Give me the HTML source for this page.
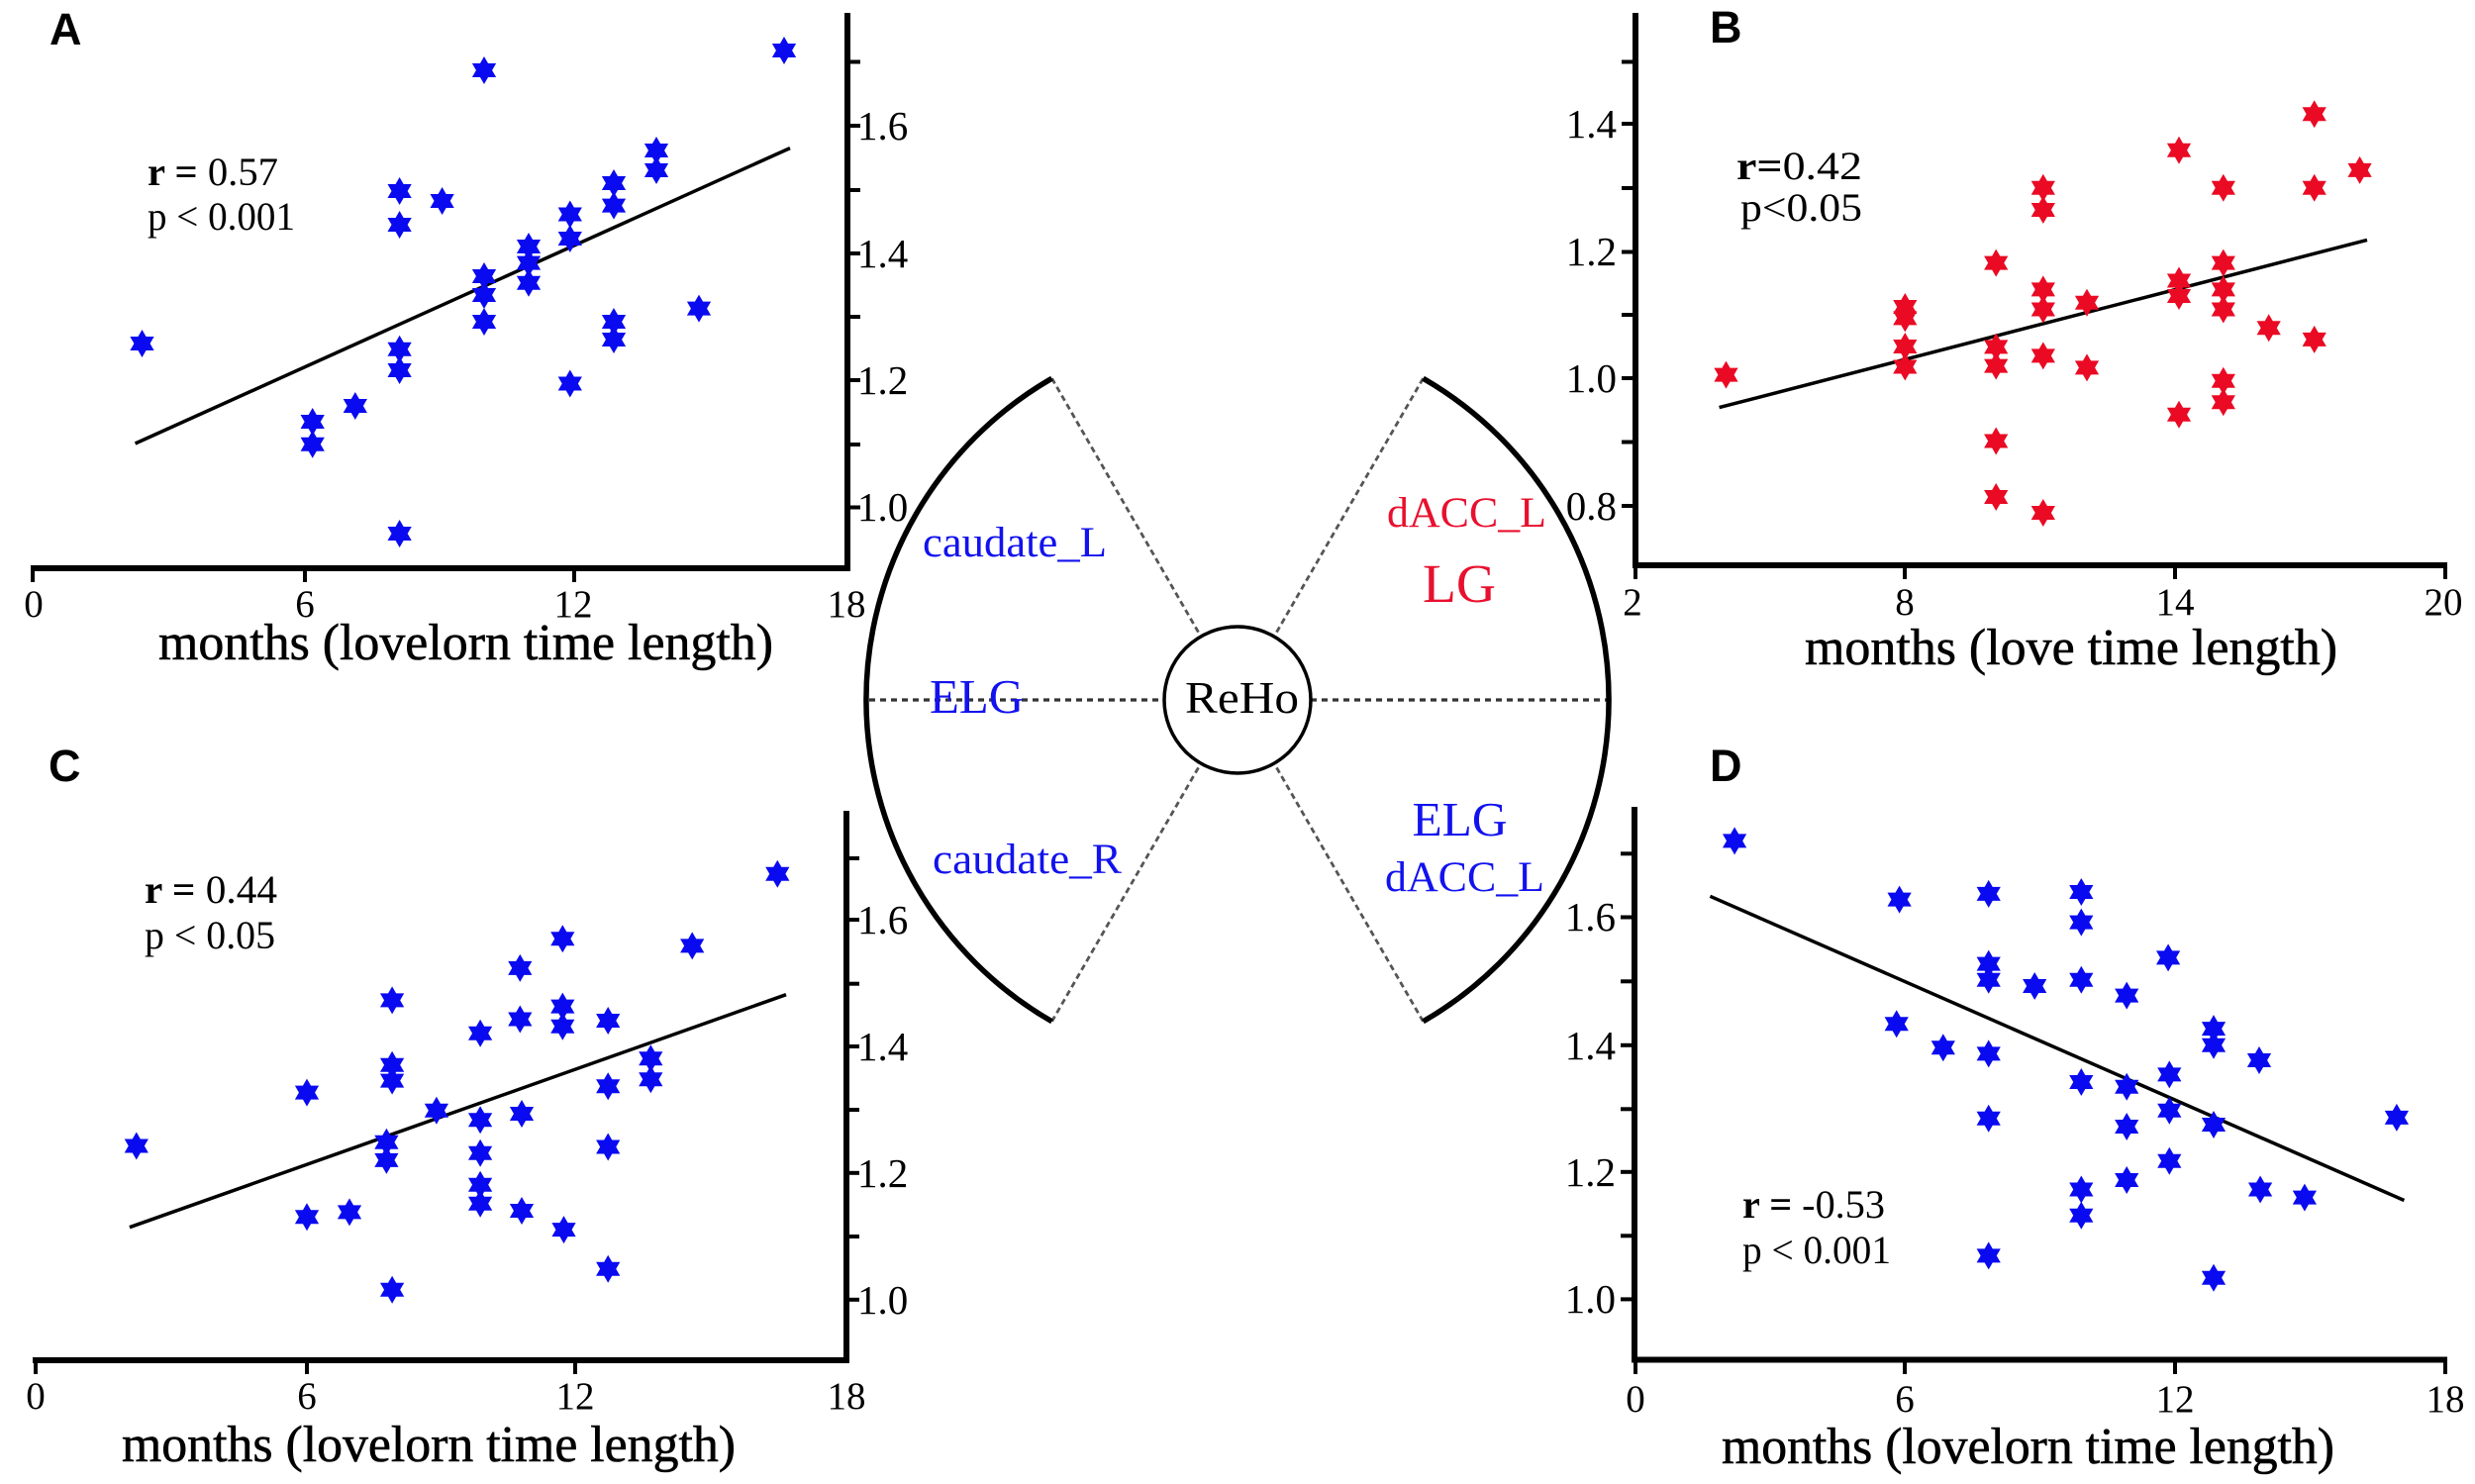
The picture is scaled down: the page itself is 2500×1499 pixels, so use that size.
<!DOCTYPE html>
<html><head><meta charset="utf-8">
<style>
html,body{margin:0;padding:0;background:#fff;}
svg{display:block;}
.t{font-family:"Liberation Serif","Times New Roman",serif;}
.l{font-family:"Liberation Sans",Arial,sans-serif;font-weight:bold;}
.ti{font-family:"Liberation Serif","Times New Roman",serif;font-size:52px;stroke:#000;stroke-width:0.6px;}
</style></head>
<body>
<svg width="2500" height="1499" viewBox="0 0 2500 1499" xmlns="http://www.w3.org/2000/svg">
<rect width="2500" height="1499" fill="#fff"/>

<!-- ===== Panel A ===== -->
<g stroke="#000" fill="none">
<line x1="856" y1="13" x2="856" y2="577" stroke-width="6"/>
<line x1="31" y1="574" x2="859" y2="574" stroke-width="6"/>
<g stroke-width="4">
<line x1="33" y1="574" x2="33" y2="588"/><line x1="308" y1="574" x2="308" y2="588"/><line x1="580" y1="574" x2="580" y2="588"/>
<line x1="859" y1="62.5" x2="869" y2="62.5"/><line x1="859" y1="127" x2="869" y2="127"/><line x1="859" y1="192" x2="869" y2="192"/><line x1="859" y1="256" x2="869" y2="256"/><line x1="859" y1="320" x2="869" y2="320"/><line x1="859" y1="384" x2="869" y2="384"/><line x1="859" y1="449" x2="869" y2="449"/><line x1="859" y1="512.5" x2="869" y2="512.5"/>
</g>
<line x1="136.6" y1="448" x2="798" y2="149.6" stroke-width="3.5"/>
</g>
<g class="t" font-size="41" fill="#000">
<text x="866" y="141">1.6</text><text x="866" y="270">1.4</text><text x="866" y="398">1.2</text><text x="866" y="526">1.0</text>
<g text-anchor="middle" font-size="39"><text x="34" y="623">0</text><text x="308" y="623">6</text><text x="579" y="623">12</text><text x="855" y="623">18</text></g>
</g>
<text class="ti" x="160" y="666" textLength="621" lengthAdjust="spacingAndGlyphs">months (lovelorn time length)</text>
<text class="t" x="149" y="187" font-size="40" textLength="132" lengthAdjust="spacingAndGlyphs"><tspan font-weight="bold">r =</tspan> 0.57</text>
<text class="t" x="149" y="232" font-size="40" textLength="149" lengthAdjust="spacingAndGlyphs">p &lt; 0.001</text>
<text class="l" x="50" y="45" font-size="45">A</text>
<g fill="#0a0af0">
<path transform="translate(143.5,347)" d="M0-14L4.04-7 12.12-7 8.08 0 12.12 7 4.04 7 0 14-4.04 7-12.12 7-8.08 0-12.12-7-4.04-7Z"/>
<path transform="translate(489,71)" d="M0-14L4.04-7 12.12-7 8.08 0 12.12 7 4.04 7 0 14-4.04 7-12.12 7-8.08 0-12.12-7-4.04-7Z"/>
<path transform="translate(792,51)" d="M0-14L4.04-7 12.12-7 8.08 0 12.12 7 4.04 7 0 14-4.04 7-12.12 7-8.08 0-12.12-7-4.04-7Z"/>
<path transform="translate(403.6,193)" d="M0-14L4.04-7 12.12-7 8.08 0 12.12 7 4.04 7 0 14-4.04 7-12.12 7-8.08 0-12.12-7-4.04-7Z"/>
<path transform="translate(403.6,227)" d="M0-14L4.04-7 12.12-7 8.08 0 12.12 7 4.04 7 0 14-4.04 7-12.12 7-8.08 0-12.12-7-4.04-7Z"/>
<path transform="translate(446.6,203)" d="M0-14L4.04-7 12.12-7 8.08 0 12.12 7 4.04 7 0 14-4.04 7-12.12 7-8.08 0-12.12-7-4.04-7Z"/>
<path transform="translate(663,152)" d="M0-14L4.04-7 12.12-7 8.08 0 12.12 7 4.04 7 0 14-4.04 7-12.12 7-8.08 0-12.12-7-4.04-7Z"/>
<path transform="translate(663,172)" d="M0-14L4.04-7 12.12-7 8.08 0 12.12 7 4.04 7 0 14-4.04 7-12.12 7-8.08 0-12.12-7-4.04-7Z"/>
<path transform="translate(620,185)" d="M0-14L4.04-7 12.12-7 8.08 0 12.12 7 4.04 7 0 14-4.04 7-12.12 7-8.08 0-12.12-7-4.04-7Z"/>
<path transform="translate(620,207.6)" d="M0-14L4.04-7 12.12-7 8.08 0 12.12 7 4.04 7 0 14-4.04 7-12.12 7-8.08 0-12.12-7-4.04-7Z"/>
<path transform="translate(575.8,216.5)" d="M0-14L4.04-7 12.12-7 8.08 0 12.12 7 4.04 7 0 14-4.04 7-12.12 7-8.08 0-12.12-7-4.04-7Z"/>
<path transform="translate(575.8,241)" d="M0-14L4.04-7 12.12-7 8.08 0 12.12 7 4.04 7 0 14-4.04 7-12.12 7-8.08 0-12.12-7-4.04-7Z"/>
<path transform="translate(534,249)" d="M0-14L4.04-7 12.12-7 8.08 0 12.12 7 4.04 7 0 14-4.04 7-12.12 7-8.08 0-12.12-7-4.04-7Z"/>
<path transform="translate(534,265.6)" d="M0-14L4.04-7 12.12-7 8.08 0 12.12 7 4.04 7 0 14-4.04 7-12.12 7-8.08 0-12.12-7-4.04-7Z"/>
<path transform="translate(534,285.7)" d="M0-14L4.04-7 12.12-7 8.08 0 12.12 7 4.04 7 0 14-4.04 7-12.12 7-8.08 0-12.12-7-4.04-7Z"/>
<path transform="translate(489,279)" d="M0-14L4.04-7 12.12-7 8.08 0 12.12 7 4.04 7 0 14-4.04 7-12.12 7-8.08 0-12.12-7-4.04-7Z"/>
<path transform="translate(489,298)" d="M0-14L4.04-7 12.12-7 8.08 0 12.12 7 4.04 7 0 14-4.04 7-12.12 7-8.08 0-12.12-7-4.04-7Z"/>
<path transform="translate(489,325)" d="M0-14L4.04-7 12.12-7 8.08 0 12.12 7 4.04 7 0 14-4.04 7-12.12 7-8.08 0-12.12-7-4.04-7Z"/>
<path transform="translate(620,325)" d="M0-14L4.04-7 12.12-7 8.08 0 12.12 7 4.04 7 0 14-4.04 7-12.12 7-8.08 0-12.12-7-4.04-7Z"/>
<path transform="translate(620,343)" d="M0-14L4.04-7 12.12-7 8.08 0 12.12 7 4.04 7 0 14-4.04 7-12.12 7-8.08 0-12.12-7-4.04-7Z"/>
<path transform="translate(706,311.6)" d="M0-14L4.04-7 12.12-7 8.08 0 12.12 7 4.04 7 0 14-4.04 7-12.12 7-8.08 0-12.12-7-4.04-7Z"/>
<path transform="translate(575.8,387.5)" d="M0-14L4.04-7 12.12-7 8.08 0 12.12 7 4.04 7 0 14-4.04 7-12.12 7-8.08 0-12.12-7-4.04-7Z"/>
<path transform="translate(403.6,352.7)" d="M0-14L4.04-7 12.12-7 8.08 0 12.12 7 4.04 7 0 14-4.04 7-12.12 7-8.08 0-12.12-7-4.04-7Z"/>
<path transform="translate(403.6,374)" d="M0-14L4.04-7 12.12-7 8.08 0 12.12 7 4.04 7 0 14-4.04 7-12.12 7-8.08 0-12.12-7-4.04-7Z"/>
<path transform="translate(358.8,410)" d="M0-14L4.04-7 12.12-7 8.08 0 12.12 7 4.04 7 0 14-4.04 7-12.12 7-8.08 0-12.12-7-4.04-7Z"/>
<path transform="translate(315.7,426)" d="M0-14L4.04-7 12.12-7 8.08 0 12.12 7 4.04 7 0 14-4.04 7-12.12 7-8.08 0-12.12-7-4.04-7Z"/>
<path transform="translate(315.7,448.7)" d="M0-14L4.04-7 12.12-7 8.08 0 12.12 7 4.04 7 0 14-4.04 7-12.12 7-8.08 0-12.12-7-4.04-7Z"/>
<path transform="translate(403.6,539)" d="M0-14L4.04-7 12.12-7 8.08 0 12.12 7 4.04 7 0 14-4.04 7-12.12 7-8.08 0-12.12-7-4.04-7Z"/>
</g>

<!-- ===== Panel B ===== -->
<g stroke="#000" fill="none">
<line x1="1652" y1="13" x2="1652" y2="574" stroke-width="6"/>
<line x1="1649" y1="571" x2="2472" y2="571" stroke-width="6"/>
<g stroke-width="4">
<line x1="1652" y1="571" x2="1652" y2="585"/><line x1="1924" y1="571" x2="1924" y2="585"/><line x1="2197" y1="571" x2="2197" y2="585"/><line x1="2470" y1="571" x2="2470" y2="585"/>
<line x1="1638" y1="62.5" x2="1652" y2="62.5"/><line x1="1638" y1="125" x2="1652" y2="125"/><line x1="1638" y1="190" x2="1652" y2="190"/><line x1="1638" y1="254.5" x2="1652" y2="254.5"/><line x1="1638" y1="318" x2="1652" y2="318"/><line x1="1638" y1="382" x2="1652" y2="382"/><line x1="1638" y1="446.5" x2="1652" y2="446.5"/><line x1="1638" y1="511" x2="1652" y2="511"/>
</g>
<line x1="1736.6" y1="411.6" x2="2391" y2="242.4" stroke-width="3.5"/>
</g>
<g class="t" font-size="41" fill="#000">
<g text-anchor="end"><text x="1633" y="139">1.4</text><text x="1633" y="268">1.2</text><text x="1633" y="396">1.0</text><text x="1633" y="525">0.8</text></g>
<g text-anchor="middle" font-size="39"><text x="1649" y="621">2</text><text x="1924" y="621">8</text><text x="2197" y="621">14</text><text x="2468" y="621">20</text></g>
</g>
<text class="ti" x="1823" y="671" textLength="538" lengthAdjust="spacingAndGlyphs">months (love time length)</text>
<text class="t" x="1754" y="181" font-size="40" textLength="127" lengthAdjust="spacingAndGlyphs"><tspan font-weight="bold">r=</tspan>0.42</text>
<text class="t" x="1758" y="223" font-size="40" textLength="123" lengthAdjust="spacingAndGlyphs">p&lt;0.05</text>
<text class="l" x="1727" y="43" font-size="45">B</text>
<g fill="#ea0a24">
<path transform="translate(1743.5,378.6)" d="M0-14L4.04-7 12.12-7 8.08 0 12.12 7 4.04 7 0 14-4.04 7-12.12 7-8.08 0-12.12-7-4.04-7Z"/>
<path transform="translate(1924.3,310)" d="M0-14L4.04-7 12.12-7 8.08 0 12.12 7 4.04 7 0 14-4.04 7-12.12 7-8.08 0-12.12-7-4.04-7Z"/>
<path transform="translate(1924.3,321.4)" d="M0-14L4.04-7 12.12-7 8.08 0 12.12 7 4.04 7 0 14-4.04 7-12.12 7-8.08 0-12.12-7-4.04-7Z"/>
<path transform="translate(1924.3,350)" d="M0-14L4.04-7 12.12-7 8.08 0 12.12 7 4.04 7 0 14-4.04 7-12.12 7-8.08 0-12.12-7-4.04-7Z"/>
<path transform="translate(1924.3,370.5)" d="M0-14L4.04-7 12.12-7 8.08 0 12.12 7 4.04 7 0 14-4.04 7-12.12 7-8.08 0-12.12-7-4.04-7Z"/>
<path transform="translate(2016.2,265.6)" d="M0-14L4.04-7 12.12-7 8.08 0 12.12 7 4.04 7 0 14-4.04 7-12.12 7-8.08 0-12.12-7-4.04-7Z"/>
<path transform="translate(2016.2,350.4)" d="M0-14L4.04-7 12.12-7 8.08 0 12.12 7 4.04 7 0 14-4.04 7-12.12 7-8.08 0-12.12-7-4.04-7Z"/>
<path transform="translate(2016.2,369.6)" d="M0-14L4.04-7 12.12-7 8.08 0 12.12 7 4.04 7 0 14-4.04 7-12.12 7-8.08 0-12.12-7-4.04-7Z"/>
<path transform="translate(2016.2,445.5)" d="M0-14L4.04-7 12.12-7 8.08 0 12.12 7 4.04 7 0 14-4.04 7-12.12 7-8.08 0-12.12-7-4.04-7Z"/>
<path transform="translate(2016.2,502)" d="M0-14L4.04-7 12.12-7 8.08 0 12.12 7 4.04 7 0 14-4.04 7-12.12 7-8.08 0-12.12-7-4.04-7Z"/>
<path transform="translate(2063.8,189.7)" d="M0-14L4.04-7 12.12-7 8.08 0 12.12 7 4.04 7 0 14-4.04 7-12.12 7-8.08 0-12.12-7-4.04-7Z"/>
<path transform="translate(2063.8,212)" d="M0-14L4.04-7 12.12-7 8.08 0 12.12 7 4.04 7 0 14-4.04 7-12.12 7-8.08 0-12.12-7-4.04-7Z"/>
<path transform="translate(2063.8,292.4)" d="M0-14L4.04-7 12.12-7 8.08 0 12.12 7 4.04 7 0 14-4.04 7-12.12 7-8.08 0-12.12-7-4.04-7Z"/>
<path transform="translate(2063.8,312.5)" d="M0-14L4.04-7 12.12-7 8.08 0 12.12 7 4.04 7 0 14-4.04 7-12.12 7-8.08 0-12.12-7-4.04-7Z"/>
<path transform="translate(2063.8,359.4)" d="M0-14L4.04-7 12.12-7 8.08 0 12.12 7 4.04 7 0 14-4.04 7-12.12 7-8.08 0-12.12-7-4.04-7Z"/>
<path transform="translate(2063.8,518)" d="M0-14L4.04-7 12.12-7 8.08 0 12.12 7 4.04 7 0 14-4.04 7-12.12 7-8.08 0-12.12-7-4.04-7Z"/>
<path transform="translate(2108,305.8)" d="M0-14L4.04-7 12.12-7 8.08 0 12.12 7 4.04 7 0 14-4.04 7-12.12 7-8.08 0-12.12-7-4.04-7Z"/>
<path transform="translate(2108,371.4)" d="M0-14L4.04-7 12.12-7 8.08 0 12.12 7 4.04 7 0 14-4.04 7-12.12 7-8.08 0-12.12-7-4.04-7Z"/>
<path transform="translate(2201,151.8)" d="M0-14L4.04-7 12.12-7 8.08 0 12.12 7 4.04 7 0 14-4.04 7-12.12 7-8.08 0-12.12-7-4.04-7Z"/>
<path transform="translate(2201,283.5)" d="M0-14L4.04-7 12.12-7 8.08 0 12.12 7 4.04 7 0 14-4.04 7-12.12 7-8.08 0-12.12-7-4.04-7Z"/>
<path transform="translate(2201,299)" d="M0-14L4.04-7 12.12-7 8.08 0 12.12 7 4.04 7 0 14-4.04 7-12.12 7-8.08 0-12.12-7-4.04-7Z"/>
<path transform="translate(2201,418.8)" d="M0-14L4.04-7 12.12-7 8.08 0 12.12 7 4.04 7 0 14-4.04 7-12.12 7-8.08 0-12.12-7-4.04-7Z"/>
<path transform="translate(2245.8,189.7)" d="M0-14L4.04-7 12.12-7 8.08 0 12.12 7 4.04 7 0 14-4.04 7-12.12 7-8.08 0-12.12-7-4.04-7Z"/>
<path transform="translate(2245.8,265.6)" d="M0-14L4.04-7 12.12-7 8.08 0 12.12 7 4.04 7 0 14-4.04 7-12.12 7-8.08 0-12.12-7-4.04-7Z"/>
<path transform="translate(2245.8,292.4)" d="M0-14L4.04-7 12.12-7 8.08 0 12.12 7 4.04 7 0 14-4.04 7-12.12 7-8.08 0-12.12-7-4.04-7Z"/>
<path transform="translate(2245.8,312.5)" d="M0-14L4.04-7 12.12-7 8.08 0 12.12 7 4.04 7 0 14-4.04 7-12.12 7-8.08 0-12.12-7-4.04-7Z"/>
<path transform="translate(2245.8,384.8)" d="M0-14L4.04-7 12.12-7 8.08 0 12.12 7 4.04 7 0 14-4.04 7-12.12 7-8.08 0-12.12-7-4.04-7Z"/>
<path transform="translate(2245.8,406.3)" d="M0-14L4.04-7 12.12-7 8.08 0 12.12 7 4.04 7 0 14-4.04 7-12.12 7-8.08 0-12.12-7-4.04-7Z"/>
<path transform="translate(2291.7,331.3)" d="M0-14L4.04-7 12.12-7 8.08 0 12.12 7 4.04 7 0 14-4.04 7-12.12 7-8.08 0-12.12-7-4.04-7Z"/>
<path transform="translate(2337.7,115.2)" d="M0-14L4.04-7 12.12-7 8.08 0 12.12 7 4.04 7 0 14-4.04 7-12.12 7-8.08 0-12.12-7-4.04-7Z"/>
<path transform="translate(2337.7,189.7)" d="M0-14L4.04-7 12.12-7 8.08 0 12.12 7 4.04 7 0 14-4.04 7-12.12 7-8.08 0-12.12-7-4.04-7Z"/>
<path transform="translate(2337.7,342.9)" d="M0-14L4.04-7 12.12-7 8.08 0 12.12 7 4.04 7 0 14-4.04 7-12.12 7-8.08 0-12.12-7-4.04-7Z"/>
<path transform="translate(2383.6,171.9)" d="M0-14L4.04-7 12.12-7 8.08 0 12.12 7 4.04 7 0 14-4.04 7-12.12 7-8.08 0-12.12-7-4.04-7Z"/>
</g>

<!-- ===== Panel C ===== -->
<g stroke="#000" fill="none">
<line x1="855" y1="819" x2="855" y2="1377" stroke-width="6"/>
<line x1="33" y1="1374" x2="858" y2="1374" stroke-width="6"/>
<g stroke-width="4">
<line x1="36" y1="1374" x2="36" y2="1388"/><line x1="310" y1="1374" x2="310" y2="1388"/><line x1="581" y1="1374" x2="581" y2="1388"/>
<line x1="858" y1="867" x2="868" y2="867"/><line x1="858" y1="929" x2="868" y2="929"/><line x1="858" y1="993.7" x2="868" y2="993.7"/><line x1="858" y1="1057" x2="868" y2="1057"/><line x1="858" y1="1121" x2="868" y2="1121"/><line x1="858" y1="1184.8" x2="868" y2="1184.8"/><line x1="858" y1="1249" x2="868" y2="1249"/><line x1="858" y1="1312.8" x2="868" y2="1312.8"/>
</g>
<line x1="130.9" y1="1239.7" x2="794" y2="1004.7" stroke-width="3.5"/>
</g>
<g class="t" font-size="41" fill="#000">
<text x="866" y="943">1.6</text><text x="866" y="1071">1.4</text><text x="866" y="1199">1.2</text><text x="866" y="1327">1.0</text>
<g text-anchor="middle" font-size="39"><text x="36" y="1423">0</text><text x="310" y="1423">6</text><text x="581" y="1423">12</text><text x="855" y="1423">18</text></g>
</g>
<text class="ti" x="123" y="1476" textLength="620" lengthAdjust="spacingAndGlyphs">months (lovelorn time length)</text>
<text class="t" x="146" y="912" font-size="40" textLength="134" lengthAdjust="spacingAndGlyphs"><tspan font-weight="bold">r =</tspan> 0.44</text>
<text class="t" x="146" y="958" font-size="40" textLength="132" lengthAdjust="spacingAndGlyphs">p &lt; 0.05</text>
<text class="l" x="49" y="789" font-size="45">C</text>
<g fill="#0a0af0">
<path transform="translate(137.8,1157.5)" d="M0-14L4.04-7 12.12-7 8.08 0 12.12 7 4.04 7 0 14-4.04 7-12.12 7-8.08 0-12.12-7-4.04-7Z"/>
<path transform="translate(785.3,882.8)" d="M0-14L4.04-7 12.12-7 8.08 0 12.12 7 4.04 7 0 14-4.04 7-12.12 7-8.08 0-12.12-7-4.04-7Z"/>
<path transform="translate(568.3,948.3)" d="M0-14L4.04-7 12.12-7 8.08 0 12.12 7 4.04 7 0 14-4.04 7-12.12 7-8.08 0-12.12-7-4.04-7Z"/>
<path transform="translate(699.2,955.4)" d="M0-14L4.04-7 12.12-7 8.08 0 12.12 7 4.04 7 0 14-4.04 7-12.12 7-8.08 0-12.12-7-4.04-7Z"/>
<path transform="translate(525.3,977.9)" d="M0-14L4.04-7 12.12-7 8.08 0 12.12 7 4.04 7 0 14-4.04 7-12.12 7-8.08 0-12.12-7-4.04-7Z"/>
<path transform="translate(396.1,1010.4)" d="M0-14L4.04-7 12.12-7 8.08 0 12.12 7 4.04 7 0 14-4.04 7-12.12 7-8.08 0-12.12-7-4.04-7Z"/>
<path transform="translate(525.3,1029.5)" d="M0-14L4.04-7 12.12-7 8.08 0 12.12 7 4.04 7 0 14-4.04 7-12.12 7-8.08 0-12.12-7-4.04-7Z"/>
<path transform="translate(568.3,1016.6)" d="M0-14L4.04-7 12.12-7 8.08 0 12.12 7 4.04 7 0 14-4.04 7-12.12 7-8.08 0-12.12-7-4.04-7Z"/>
<path transform="translate(568.3,1036.7)" d="M0-14L4.04-7 12.12-7 8.08 0 12.12 7 4.04 7 0 14-4.04 7-12.12 7-8.08 0-12.12-7-4.04-7Z"/>
<path transform="translate(614.2,1031)" d="M0-14L4.04-7 12.12-7 8.08 0 12.12 7 4.04 7 0 14-4.04 7-12.12 7-8.08 0-12.12-7-4.04-7Z"/>
<path transform="translate(485.1,1043.8)" d="M0-14L4.04-7 12.12-7 8.08 0 12.12 7 4.04 7 0 14-4.04 7-12.12 7-8.08 0-12.12-7-4.04-7Z"/>
<path transform="translate(396.1,1075.8)" d="M0-14L4.04-7 12.12-7 8.08 0 12.12 7 4.04 7 0 14-4.04 7-12.12 7-8.08 0-12.12-7-4.04-7Z"/>
<path transform="translate(396.1,1091.6)" d="M0-14L4.04-7 12.12-7 8.08 0 12.12 7 4.04 7 0 14-4.04 7-12.12 7-8.08 0-12.12-7-4.04-7Z"/>
<path transform="translate(310,1103.6)" d="M0-14L4.04-7 12.12-7 8.08 0 12.12 7 4.04 7 0 14-4.04 7-12.12 7-8.08 0-12.12-7-4.04-7Z"/>
<path transform="translate(657.3,1069.2)" d="M0-14L4.04-7 12.12-7 8.08 0 12.12 7 4.04 7 0 14-4.04 7-12.12 7-8.08 0-12.12-7-4.04-7Z"/>
<path transform="translate(657.3,1090.2)" d="M0-14L4.04-7 12.12-7 8.08 0 12.12 7 4.04 7 0 14-4.04 7-12.12 7-8.08 0-12.12-7-4.04-7Z"/>
<path transform="translate(614.2,1097.3)" d="M0-14L4.04-7 12.12-7 8.08 0 12.12 7 4.04 7 0 14-4.04 7-12.12 7-8.08 0-12.12-7-4.04-7Z"/>
<path transform="translate(440.9,1121.7)" d="M0-14L4.04-7 12.12-7 8.08 0 12.12 7 4.04 7 0 14-4.04 7-12.12 7-8.08 0-12.12-7-4.04-7Z"/>
<path transform="translate(485.1,1131.3)" d="M0-14L4.04-7 12.12-7 8.08 0 12.12 7 4.04 7 0 14-4.04 7-12.12 7-8.08 0-12.12-7-4.04-7Z"/>
<path transform="translate(527,1125)" d="M0-14L4.04-7 12.12-7 8.08 0 12.12 7 4.04 7 0 14-4.04 7-12.12 7-8.08 0-12.12-7-4.04-7Z"/>
<path transform="translate(390.4,1153.7)" d="M0-14L4.04-7 12.12-7 8.08 0 12.12 7 4.04 7 0 14-4.04 7-12.12 7-8.08 0-12.12-7-4.04-7Z"/>
<path transform="translate(390.4,1171.9)" d="M0-14L4.04-7 12.12-7 8.08 0 12.12 7 4.04 7 0 14-4.04 7-12.12 7-8.08 0-12.12-7-4.04-7Z"/>
<path transform="translate(485.1,1164.7)" d="M0-14L4.04-7 12.12-7 8.08 0 12.12 7 4.04 7 0 14-4.04 7-12.12 7-8.08 0-12.12-7-4.04-7Z"/>
<path transform="translate(485.1,1196.7)" d="M0-14L4.04-7 12.12-7 8.08 0 12.12 7 4.04 7 0 14-4.04 7-12.12 7-8.08 0-12.12-7-4.04-7Z"/>
<path transform="translate(485.1,1215.8)" d="M0-14L4.04-7 12.12-7 8.08 0 12.12 7 4.04 7 0 14-4.04 7-12.12 7-8.08 0-12.12-7-4.04-7Z"/>
<path transform="translate(614.2,1158.5)" d="M0-14L4.04-7 12.12-7 8.08 0 12.12 7 4.04 7 0 14-4.04 7-12.12 7-8.08 0-12.12-7-4.04-7Z"/>
<path transform="translate(310,1229.2)" d="M0-14L4.04-7 12.12-7 8.08 0 12.12 7 4.04 7 0 14-4.04 7-12.12 7-8.08 0-12.12-7-4.04-7Z"/>
<path transform="translate(353,1224.4)" d="M0-14L4.04-7 12.12-7 8.08 0 12.12 7 4.04 7 0 14-4.04 7-12.12 7-8.08 0-12.12-7-4.04-7Z"/>
<path transform="translate(527,1223)" d="M0-14L4.04-7 12.12-7 8.08 0 12.12 7 4.04 7 0 14-4.04 7-12.12 7-8.08 0-12.12-7-4.04-7Z"/>
<path transform="translate(569.5,1242.1)" d="M0-14L4.04-7 12.12-7 8.08 0 12.12 7 4.04 7 0 14-4.04 7-12.12 7-8.08 0-12.12-7-4.04-7Z"/>
<path transform="translate(614.2,1281.8)" d="M0-14L4.04-7 12.12-7 8.08 0 12.12 7 4.04 7 0 14-4.04 7-12.12 7-8.08 0-12.12-7-4.04-7Z"/>
<path transform="translate(396.1,1302.8)" d="M0-14L4.04-7 12.12-7 8.08 0 12.12 7 4.04 7 0 14-4.04 7-12.12 7-8.08 0-12.12-7-4.04-7Z"/>
</g>

<!-- ===== Panel D ===== -->
<g stroke="#000" fill="none">
<line x1="1651" y1="815" x2="1651" y2="1376" stroke-width="6"/>
<line x1="1648" y1="1373.5" x2="2472" y2="1373.5" stroke-width="6"/>
<g stroke-width="4">
<line x1="1652" y1="1373" x2="1652" y2="1388"/><line x1="1924" y1="1373" x2="1924" y2="1388"/><line x1="2197" y1="1373" x2="2197" y2="1388"/><line x1="2470" y1="1373" x2="2470" y2="1388"/>
<line x1="1637" y1="862.3" x2="1651" y2="862.3"/><line x1="1637" y1="926.5" x2="1651" y2="926.5"/><line x1="1637" y1="991.3" x2="1651" y2="991.3"/><line x1="1637" y1="1055.8" x2="1651" y2="1055.8"/><line x1="1637" y1="1120.3" x2="1651" y2="1120.3"/><line x1="1637" y1="1183.8" x2="1651" y2="1183.8"/><line x1="1637" y1="1248.3" x2="1651" y2="1248.3"/><line x1="1637" y1="1312.4" x2="1651" y2="1312.4"/>
</g>
<line x1="1727.4" y1="905.3" x2="2428.4" y2="1212.5" stroke-width="3.5"/>
</g>
<g class="t" font-size="41" fill="#000">
<g text-anchor="end"><text x="1632" y="940">1.6</text><text x="1632" y="1070">1.4</text><text x="1632" y="1198">1.2</text><text x="1632" y="1326">1.0</text></g>
<g text-anchor="middle" font-size="39"><text x="1652" y="1426">0</text><text x="1924" y="1426">6</text><text x="2197" y="1426">12</text><text x="2470" y="1426">18</text></g>
</g>
<text class="ti" x="1739" y="1478" textLength="619" lengthAdjust="spacingAndGlyphs">months (lovelorn time length)</text>
<text class="t" x="1760" y="1230" font-size="40" textLength="144" lengthAdjust="spacingAndGlyphs"><tspan font-weight="bold">r =</tspan> -0.53</text>
<text class="t" x="1760" y="1276" font-size="40" textLength="150" lengthAdjust="spacingAndGlyphs">p &lt; 0.001</text>
<text class="l" x="1727" y="789" font-size="45">D</text>
<g fill="#0a0af0">
<path transform="translate(1752.1,849.4)" d="M0-14L4.04-7 12.12-7 8.08 0 12.12 7 4.04 7 0 14-4.04 7-12.12 7-8.08 0-12.12-7-4.04-7Z"/>
<path transform="translate(1918.6,908.6)" d="M0-14L4.04-7 12.12-7 8.08 0 12.12 7 4.04 7 0 14-4.04 7-12.12 7-8.08 0-12.12-7-4.04-7Z"/>
<path transform="translate(2008.7,902.9)" d="M0-14L4.04-7 12.12-7 8.08 0 12.12 7 4.04 7 0 14-4.04 7-12.12 7-8.08 0-12.12-7-4.04-7Z"/>
<path transform="translate(2102.3,901)" d="M0-14L4.04-7 12.12-7 8.08 0 12.12 7 4.04 7 0 14-4.04 7-12.12 7-8.08 0-12.12-7-4.04-7Z"/>
<path transform="translate(2102.3,931.6)" d="M0-14L4.04-7 12.12-7 8.08 0 12.12 7 4.04 7 0 14-4.04 7-12.12 7-8.08 0-12.12-7-4.04-7Z"/>
<path transform="translate(2190.1,967.4)" d="M0-14L4.04-7 12.12-7 8.08 0 12.12 7 4.04 7 0 14-4.04 7-12.12 7-8.08 0-12.12-7-4.04-7Z"/>
<path transform="translate(2008.7,973.6)" d="M0-14L4.04-7 12.12-7 8.08 0 12.12 7 4.04 7 0 14-4.04 7-12.12 7-8.08 0-12.12-7-4.04-7Z"/>
<path transform="translate(2008.7,989.8)" d="M0-14L4.04-7 12.12-7 8.08 0 12.12 7 4.04 7 0 14-4.04 7-12.12 7-8.08 0-12.12-7-4.04-7Z"/>
<path transform="translate(2055.2,996)" d="M0-14L4.04-7 12.12-7 8.08 0 12.12 7 4.04 7 0 14-4.04 7-12.12 7-8.08 0-12.12-7-4.04-7Z"/>
<path transform="translate(2102.3,989.8)" d="M0-14L4.04-7 12.12-7 8.08 0 12.12 7 4.04 7 0 14-4.04 7-12.12 7-8.08 0-12.12-7-4.04-7Z"/>
<path transform="translate(2148.2,1005.6)" d="M0-14L4.04-7 12.12-7 8.08 0 12.12 7 4.04 7 0 14-4.04 7-12.12 7-8.08 0-12.12-7-4.04-7Z"/>
<path transform="translate(1915.7,1034.3)" d="M0-14L4.04-7 12.12-7 8.08 0 12.12 7 4.04 7 0 14-4.04 7-12.12 7-8.08 0-12.12-7-4.04-7Z"/>
<path transform="translate(1962.8,1058.2)" d="M0-14L4.04-7 12.12-7 8.08 0 12.12 7 4.04 7 0 14-4.04 7-12.12 7-8.08 0-12.12-7-4.04-7Z"/>
<path transform="translate(2008.7,1064.4)" d="M0-14L4.04-7 12.12-7 8.08 0 12.12 7 4.04 7 0 14-4.04 7-12.12 7-8.08 0-12.12-7-4.04-7Z"/>
<path transform="translate(2236,1039.1)" d="M0-14L4.04-7 12.12-7 8.08 0 12.12 7 4.04 7 0 14-4.04 7-12.12 7-8.08 0-12.12-7-4.04-7Z"/>
<path transform="translate(2236,1055.8)" d="M0-14L4.04-7 12.12-7 8.08 0 12.12 7 4.04 7 0 14-4.04 7-12.12 7-8.08 0-12.12-7-4.04-7Z"/>
<path transform="translate(2282,1071)" d="M0-14L4.04-7 12.12-7 8.08 0 12.12 7 4.04 7 0 14-4.04 7-12.12 7-8.08 0-12.12-7-4.04-7Z"/>
<path transform="translate(2102.3,1093)" d="M0-14L4.04-7 12.12-7 8.08 0 12.12 7 4.04 7 0 14-4.04 7-12.12 7-8.08 0-12.12-7-4.04-7Z"/>
<path transform="translate(2148.2,1097.8)" d="M0-14L4.04-7 12.12-7 8.08 0 12.12 7 4.04 7 0 14-4.04 7-12.12 7-8.08 0-12.12-7-4.04-7Z"/>
<path transform="translate(2191.3,1085.4)" d="M0-14L4.04-7 12.12-7 8.08 0 12.12 7 4.04 7 0 14-4.04 7-12.12 7-8.08 0-12.12-7-4.04-7Z"/>
<path transform="translate(2191.3,1121.7)" d="M0-14L4.04-7 12.12-7 8.08 0 12.12 7 4.04 7 0 14-4.04 7-12.12 7-8.08 0-12.12-7-4.04-7Z"/>
<path transform="translate(2008.7,1129.8)" d="M0-14L4.04-7 12.12-7 8.08 0 12.12 7 4.04 7 0 14-4.04 7-12.12 7-8.08 0-12.12-7-4.04-7Z"/>
<path transform="translate(2236,1136)" d="M0-14L4.04-7 12.12-7 8.08 0 12.12 7 4.04 7 0 14-4.04 7-12.12 7-8.08 0-12.12-7-4.04-7Z"/>
<path transform="translate(2148.2,1138)" d="M0-14L4.04-7 12.12-7 8.08 0 12.12 7 4.04 7 0 14-4.04 7-12.12 7-8.08 0-12.12-7-4.04-7Z"/>
<path transform="translate(2420.9,1128.9)" d="M0-14L4.04-7 12.12-7 8.08 0 12.12 7 4.04 7 0 14-4.04 7-12.12 7-8.08 0-12.12-7-4.04-7Z"/>
<path transform="translate(2191.3,1172.8)" d="M0-14L4.04-7 12.12-7 8.08 0 12.12 7 4.04 7 0 14-4.04 7-12.12 7-8.08 0-12.12-7-4.04-7Z"/>
<path transform="translate(2148.2,1192)" d="M0-14L4.04-7 12.12-7 8.08 0 12.12 7 4.04 7 0 14-4.04 7-12.12 7-8.08 0-12.12-7-4.04-7Z"/>
<path transform="translate(2102.3,1201.5)" d="M0-14L4.04-7 12.12-7 8.08 0 12.12 7 4.04 7 0 14-4.04 7-12.12 7-8.08 0-12.12-7-4.04-7Z"/>
<path transform="translate(2102.3,1227.8)" d="M0-14L4.04-7 12.12-7 8.08 0 12.12 7 4.04 7 0 14-4.04 7-12.12 7-8.08 0-12.12-7-4.04-7Z"/>
<path transform="translate(2283.1,1201.5)" d="M0-14L4.04-7 12.12-7 8.08 0 12.12 7 4.04 7 0 14-4.04 7-12.12 7-8.08 0-12.12-7-4.04-7Z"/>
<path transform="translate(2327.9,1209.6)" d="M0-14L4.04-7 12.12-7 8.08 0 12.12 7 4.04 7 0 14-4.04 7-12.12 7-8.08 0-12.12-7-4.04-7Z"/>
<path transform="translate(2008.7,1268.4)" d="M0-14L4.04-7 12.12-7 8.08 0 12.12 7 4.04 7 0 14-4.04 7-12.12 7-8.08 0-12.12-7-4.04-7Z"/>
<path transform="translate(2236,1290.8)" d="M0-14L4.04-7 12.12-7 8.08 0 12.12 7 4.04 7 0 14-4.04 7-12.12 7-8.08 0-12.12-7-4.04-7Z"/>
</g>

<!-- ===== Middle diagram ===== -->
<g fill="none">
<g stroke="#555" stroke-width="2.8" stroke-dasharray="6 4">
<line x1="1062.5" y1="382.2" x2="1213" y2="642.9"/>
<line x1="1062.5" y1="1031.8" x2="1213" y2="771.1"/>
<line x1="1437.5" y1="382.2" x2="1287" y2="642.9"/>
<line x1="1437.5" y1="1031.8" x2="1287" y2="771.1"/>
</g>
<g stroke="#333" stroke-width="3.2" stroke-dasharray="6 5">
<line x1="878" y1="707" x2="1176" y2="707"/>
<line x1="1324" y1="707" x2="1624" y2="707"/>
</g>
<path d="M1062.5,382.2 A375,375 0 0 0 1062.5,1031.8" stroke="#000" stroke-width="5.5"/>
<path d="M1437.5,382.2 A375,375 0 0 1 1437.5,1031.8" stroke="#000" stroke-width="5.5"/>
</g>
<circle cx="1250" cy="707" r="74" fill="#fff" stroke="#000" stroke-width="3.5"/>
<text class="t" x="1197" y="720" font-size="46" textLength="115" lengthAdjust="spacingAndGlyphs" fill="#000">ReHo</text>
<g class="t" fill="#1212ee">
<text x="932" y="562" font-size="43" textLength="186" lengthAdjust="spacingAndGlyphs">caudate_L</text>
<text x="939" y="720" font-size="49" textLength="95" lengthAdjust="spacingAndGlyphs">ELG</text>
<text x="942" y="882" font-size="43" textLength="191" lengthAdjust="spacingAndGlyphs">caudate_R</text>
<text x="1426.5" y="844" font-size="49" textLength="96" lengthAdjust="spacingAndGlyphs">ELG</text>
<text x="1399" y="900" font-size="43" textLength="161" lengthAdjust="spacingAndGlyphs">dACC_L</text>
</g>
<g class="t" fill="#e8102e">
<text x="1401" y="532" font-size="43" textLength="161" lengthAdjust="spacingAndGlyphs">dACC_L</text>
<text x="1437" y="608" font-size="55" textLength="74" lengthAdjust="spacingAndGlyphs">LG</text>
</g>
</svg>
</body></html>
